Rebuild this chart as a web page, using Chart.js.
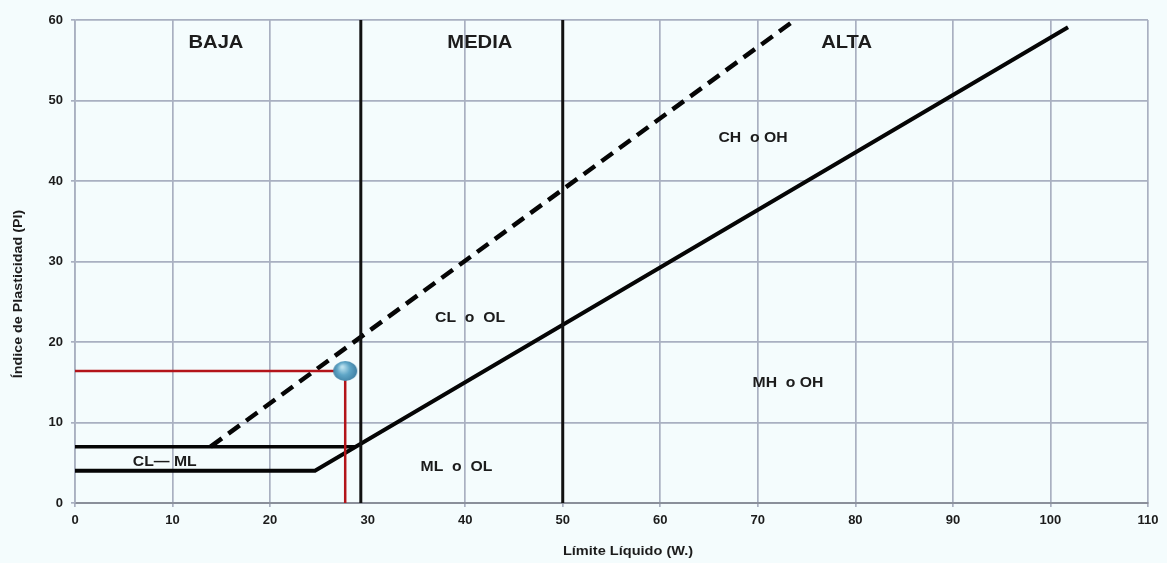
<!DOCTYPE html>
<html>
<head>
<meta charset="utf-8">
<script src="https://cdn.jsdelivr.net/npm/chart.js@4/dist/chart.umd.min.js"></script>
<style>
html,body{margin:0;padding:0;background:#f4fcfd;}
#wrap{width:1167px;height:563px;position:relative;}
</style>
</head>
<body>
<div id="wrap"><canvas id="c" width="1167" height="563"></canvas></div>
<script>
// ---- data ----
const xTicks = [0,10,20,30,40,50,60,70,80,90,100,110];
const yTicks = [0,10,20,30,40,50,60];
const aLineLL = [0, 24.6, 101.8];
const aLinePI = [4, 4, 59.1];
const clmlLL = [0, 28.8];
const clmlPI = [7, 7];
const uLineLL = [13.9, 73.8];
const uLinePI = [7, 60];
const limitLL = [29.3, 50];
const limitPI = [0, 60];
const sampleLL = 27.7;
const samplePI = 16.4;
const zoneLabels = ['BAJA', 'MEDIA', 'ALTA'];
const zoneLL = [14.45, 41.5, 79.1];
const zonePI = [57.1, 57.1, 57.1];
const soilLabels = ['CH  o OH', 'CL  o  OL', 'MH  o OH', 'ML  o  OL', 'CL\u2014 ML'];
const soilLL = [69.5, 40.5, 73.1, 39.1, 9.2];
const soilPI = [45.3, 23.0, 14.9, 4.5, 5.1];
const xTitle = 'Límite Líquido (W.)';
const yTitle = 'Índice de Plasticidad (PI)';

const pts = (xs, ys) => xs.map((x, i) => ({x: x, y: ys[i]}));

// point image
const dot = document.createElement('canvas');
dot.width = 26; dot.height = 22;
(function(){
  const g = dot.getContext('2d');
  const grad = g.createRadialGradient(10, 7, 1, 13, 11, 13);
  grad.addColorStop(0, '#b9e0ee');
  grad.addColorStop(0.45, '#5fa6c7');
  grad.addColorStop(1, '#3b7a9e');
  g.fillStyle = grad;
  g.beginPath();
  g.ellipse(13, 11, 12, 10, 0, 0, Math.PI * 2);
  g.fill();
})();

function stretchText(ctx, text, x, y, font, sx, rot) {
  ctx.save();
  ctx.translate(x, y);
  if (rot) ctx.rotate(rot);
  ctx.scale(sx, 1);
  ctx.font = font;
  ctx.fillStyle = '#1c1c1c';
  ctx.textAlign = 'center';
  ctx.textBaseline = 'middle';
  ctx.fillText(text, 0, 0);
  ctx.restore();
}

const labelPlugin = {
  id: 'labels',
  afterDatasetsDraw(chart) {
    const ctx = chart.ctx, xs = chart.scales.x, ys = chart.scales.y;
    zoneLabels.forEach((t, i) => {
      stretchText(ctx, t, xs.getPixelForValue(zoneLL[i]), ys.getPixelForValue(zonePI[i]),
        'bold 18px "Liberation Sans", Arial, sans-serif', 1.12);
    });
    soilLabels.forEach((t, i) => {
      stretchText(ctx, t, xs.getPixelForValue(soilLL[i]), ys.getPixelForValue(soilPI[i]),
        'bold 15px "Liberation Sans", Arial, sans-serif', 1.05);
    });
  },
  afterDraw(chart) {
    const ctx = chart.ctx;
    stretchText(ctx, xTitle, 628, 551, 'bold 13px "Liberation Sans", Arial, sans-serif', 1.12);
    stretchText(ctx, yTitle, 18, 294, 'bold 13px "Liberation Sans", Arial, sans-serif', 1.1, -Math.PI / 2);
  }
};

const redLine = [{x: 0, y: samplePI}, {x: sampleLL, y: samplePI}, {x: sampleLL, y: 0}];
const tickFont = {family: '"Liberation Sans", Arial, sans-serif', size: 13, weight: 'bold'};

new Chart(document.getElementById('c'), {
  type: 'scatter',
  data: {
    datasets: [
      {label: 'muestra', data: [{x: sampleLL, y: samplePI}], pointStyle: dot, pointRadius: 11, showLine: false},
      {label: 'rojo', data: redLine, showLine: true, borderColor: '#b3141a', borderWidth: 2.5, pointRadius: 0, fill: false},
      {label: 'lim1', data: pts([limitLL[0], limitLL[0]], limitPI), showLine: true, borderColor: '#111', borderWidth: 3, pointRadius: 0},
      {label: 'lim2', data: pts([limitLL[1], limitLL[1]], limitPI), showLine: true, borderColor: '#111', borderWidth: 3, pointRadius: 0},
      {label: 'A', data: pts(aLineLL, aLinePI), showLine: true, borderColor: '#050505', borderWidth: 4, pointRadius: 0, borderJoinStyle: 'miter'},
      {label: 'clml', data: pts(clmlLL, clmlPI), showLine: true, borderColor: '#050505', borderWidth: 3.5, pointRadius: 0},
      {label: 'U', data: pts(uLineLL, uLinePI), showLine: true, borderColor: '#050505', borderWidth: 4.5, borderDash: [14, 8], pointRadius: 0}
    ]
  },
  options: {
    responsive: false,
    animation: false,
    layout: {padding: {top: 20, right: 19, left: 0, bottom: 0}},
    plugins: {legend: {display: false}, tooltip: {enabled: false}},
    scales: {
      x: {
        type: 'linear', min: 0, max: 110,
        afterFit(s) { s.height = 60; },
        afterBuildTicks(s) { s.ticks = xTicks.map(v => ({value: v})); },
        grid: {color: (c) => (c.tick && c.tick.value === 30) ? 'rgba(0,0,0,0)' : '#a9b0c1', lineWidth: 1.7, tickLength: 4},
        border: {color: '#8a8f9a', width: 2},
        ticks: {color: '#1c1c1c', padding: 6, maxRotation: 0, font: tickFont}
      },
      y: {
        type: 'linear', min: 0, max: 60,
        afterFit(s) { s.width = 75; },
        afterBuildTicks(s) { s.ticks = yTicks.map(v => ({value: v})); },
        grid: {color: '#a9b0c1', lineWidth: 1.7, tickLength: 4},
        border: {color: '#a9b0c1', width: 1.7},
        ticks: {color: '#1c1c1c', padding: 8, font: tickFont}
      }
    }
  },
  plugins: [labelPlugin]
});
</script>
</body>
</html>
